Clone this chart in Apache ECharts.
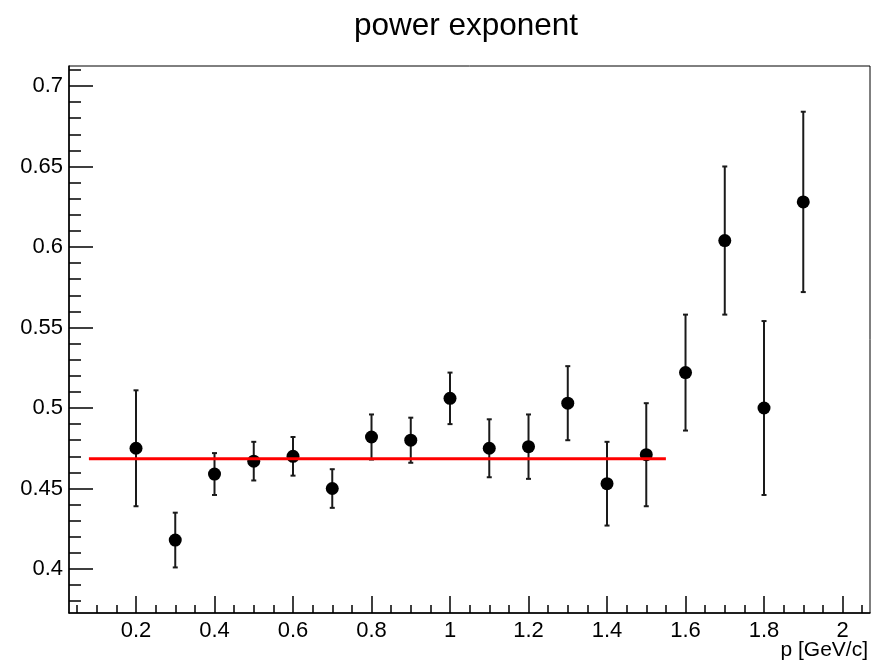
<!DOCTYPE html>
<html>
<head>
<meta charset="utf-8">
<script src="https://cdn.jsdelivr.net/npm/echarts@6/dist/echarts.min.js"></script>
<style>html,body{margin:0;padding:0;background:#fff}#c{width:882px;height:665px}</style>
</head>
<body>
<div id="c"></div>
<script>
// ---- data ----
const pValues = [0.2, 0.3, 0.4, 0.5, 0.6, 0.7, 0.8, 0.9, 1.0, 1.1, 1.2, 1.3, 1.4, 1.5, 1.6, 1.7, 1.8, 1.9];
const exponent = [0.475, 0.418, 0.459, 0.467, 0.470, 0.450, 0.482, 0.480, 0.506, 0.475, 0.476, 0.503, 0.453, 0.471, 0.522, 0.604, 0.500, 0.628];
const errors =   [0.036, 0.017, 0.013, 0.012, 0.012, 0.012, 0.014, 0.014, 0.016, 0.018, 0.020, 0.023, 0.026, 0.032, 0.036, 0.046, 0.054, 0.056];
const fitX = [0.08, 1.55];
const fitY = [0.4685, 0.4685];
const xTickLabels = [0.2, 0.4, 0.6, 0.8, 1, 1.2, 1.4, 1.6, 1.8, 2];
const yTickLabels = [0.4, 0.45, 0.5, 0.55, 0.6, 0.65, 0.7];
const xRange = [0.0293, 2.070];
const yRange = [0.3727, 0.7124];

// minor tick positions
const xMinor = [];
for (let i = 1; i <= 41; i++) xMinor.push(Math.round(i * 5) / 100);
const yMinor = [];
for (let i = 38; i <= 71; i++) yMinor.push(i / 100);

const FONT = "'Liberation Sans', Arial, Helvetica, sans-serif";
const pts = pValues.map((x, i) => [x, exponent[i]]);
const errData = pValues.map((x, i) => [x, exponent[i] - errors[i], exponent[i] + errors[i]]);
const fitData = fitX.map((x, i) => [x, fitY[i]]);

const chart = echarts.init(document.getElementById('c'), null, {renderer: 'canvas'});
chart.setOption({
  animation: false,
  backgroundColor: '#fff',
  title: {
    text: 'power exponent',
    left: 461, top: 5, textAlign: 'center',
    textStyle: {fontFamily: FONT, fontSize: 31.5, fontWeight: 'normal', color: '#000'}
  },
  grid: {left: 69, right: 12, top: 66, bottom: 52, show: true, borderColor: '#000', borderWidth: 1, backgroundColor: 'transparent'},
  graphic: [{
    type: 'text', right: 14, top: 640,
    style: {text: 'p [GeV/c]', font: '21px ' + FONT, fill: '#000'}
  }],
  xAxis: [{
    type: 'value', min: xRange[0], max: xRange[1],
    splitLine: {show: false},
    axisLine: {show: true, lineStyle: {color: '#000', width: 1.5}},
    axisTick: {show: true, inside: true, length: 17, customValues: xTickLabels, lineStyle: {color: '#000', width: 1.5}},
    axisLabel: {show: true, customValues: xTickLabels, formatter: v => String(v), margin: 7,
      fontFamily: FONT, fontSize: 22, color: '#000'}
  }, {
    type: 'value', min: xRange[0], max: xRange[1], position: 'bottom',
    splitLine: {show: false},
    axisLine: {show: false},
    axisTick: {show: true, inside: true, length: 8, customValues: xMinor, lineStyle: {color: '#000', width: 1.5}},
    axisLabel: {show: false}
  }],
  yAxis: [{
    type: 'value', min: yRange[0], max: yRange[1],
    splitLine: {show: false},
    axisLine: {show: true, lineStyle: {color: '#000', width: 1.5}},
    axisTick: {show: true, inside: true, length: 24, customValues: yTickLabels, lineStyle: {color: '#000', width: 1.5}},
    axisLabel: {show: true, customValues: yTickLabels, formatter: v => String(v), margin: 6,
      fontFamily: FONT, fontSize: 22, color: '#000'}
  }, {
    type: 'value', min: yRange[0], max: yRange[1], position: 'left',
    splitLine: {show: false},
    axisLine: {show: false},
    axisTick: {show: true, inside: true, length: 12, customValues: yMinor, lineStyle: {color: '#000', width: 1.5}},
    axisLabel: {show: false}
  }],
  series: [{
    type: 'custom',
    xAxisIndex: 0, yAxisIndex: 0,
    data: errData,
    z: 2,
    renderItem: function (params, api) {
      const x = api.value(0);
      const lo = api.coord([x, api.value(1)]);
      const hi = api.coord([x, api.value(2)]);
      const w = 2.5;
      const st = {stroke: '#1a1a1a', lineWidth: 2};
      return {
        type: 'group',
        children: [
          {type: 'line', shape: {x1: lo[0], y1: lo[1], x2: hi[0], y2: hi[1]}, style: st},
          {type: 'line', shape: {x1: lo[0] - w, y1: lo[1], x2: lo[0] + w, y2: lo[1]}, style: st},
          {type: 'line', shape: {x1: hi[0] - w, y1: hi[1], x2: hi[0] + w, y2: hi[1]}, style: st}
        ]
      };
    }
  }, {
    type: 'scatter',
    xAxisIndex: 0, yAxisIndex: 0,
    data: pts,
    symbol: 'circle', symbolSize: 13,
    itemStyle: {color: '#000', opacity: 1},
    z: 3
  }, {
    type: 'line',
    xAxisIndex: 0, yAxisIndex: 0,
    data: fitData,
    showSymbol: false, symbol: 'none',
    lineStyle: {color: '#ff0000', width: 3},
    z: 4
  }]
});
</script>
</body>
</html>
